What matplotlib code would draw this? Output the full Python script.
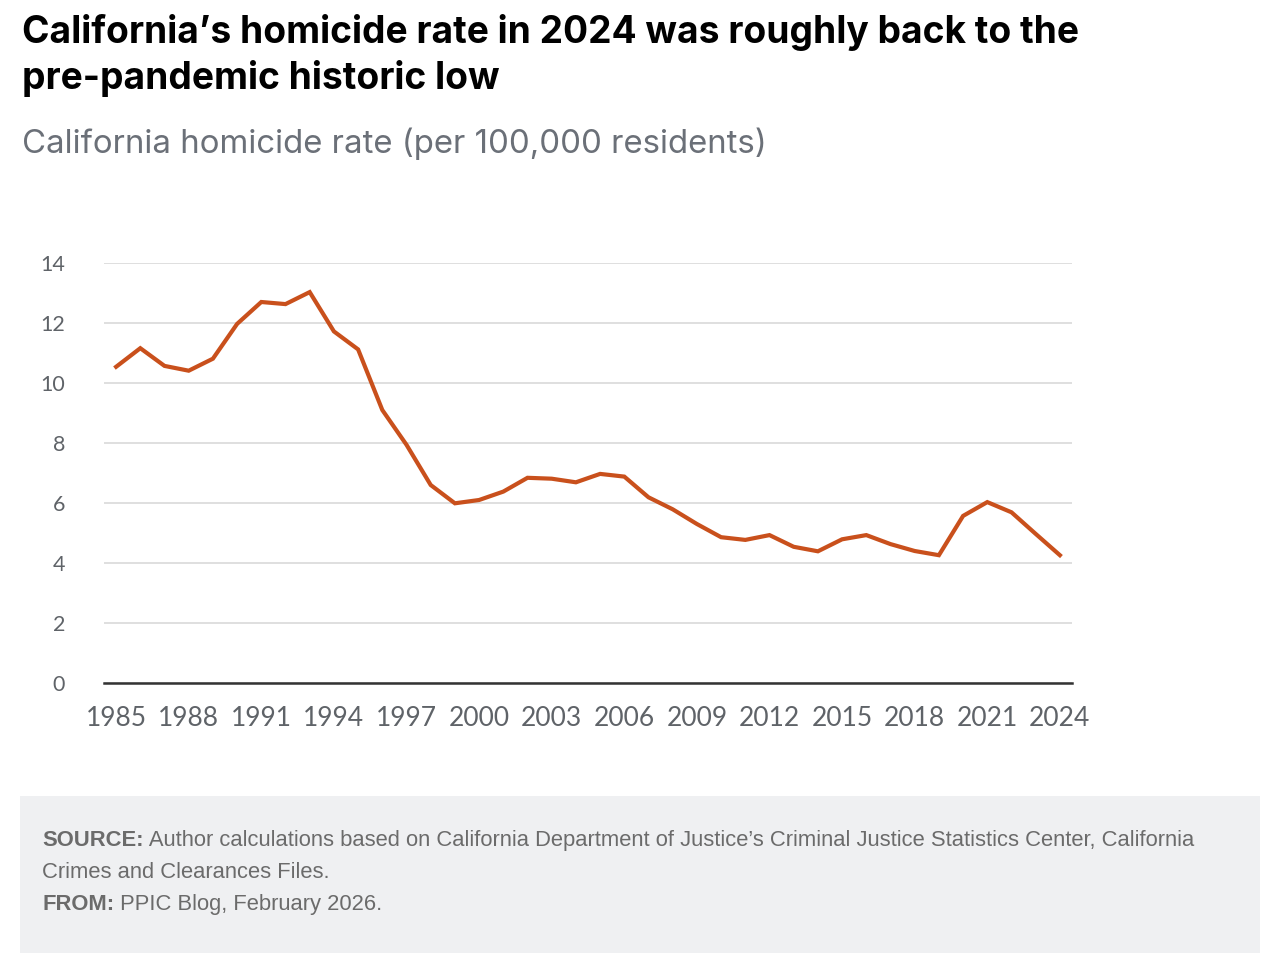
import matplotlib
matplotlib.use("Agg")
import matplotlib.pyplot as plt
from matplotlib.patches import Rectangle

years = list(range(1985, 2025))
homicide_rate = [10.55, 11.17, 10.58, 10.42, 10.82, 11.98, 12.71, 12.64, 13.04, 11.73,
                 11.13, 9.11, 7.95, 6.61, 6.00, 6.11, 6.39, 6.85, 6.82, 6.70,
                 6.98, 6.89, 6.20, 5.80, 5.31, 4.87, 4.78, 4.94, 4.55, 4.40,
                 4.80, 4.94, 4.64, 4.41, 4.27, 5.58, 6.04, 5.70, 4.98, 4.27]
x_ticks = list(range(1985, 2025, 3))
y_ticks = [0, 2, 4, 6, 8, 10, 12, 14]

title_lines = ["California\u2019s homicide rate in 2024 was roughly back to the",
               "pre-pandemic historic low"]
subtitle = "California homicide rate (per 100,000 residents)"
source_label = "SOURCE:"
source_line1 = " Author calculations based on California Department of Justice\u2019s Criminal Justice Statistics Center, California"
source_line2 = "Crimes and Clearances Files."
from_label = "FROM:"
from_text = " PPIC Blog, February 2026."

W, H = 1280, 960
fig = plt.figure(figsize=(12.8, 9.6), dpi=100)
fig.patch.set_facecolor("white")

def fx(px):
    return px / W

def fy(py):
    return 1 - py / H

ax = fig.add_axes([fx(104), fy(683.3), fx(1072) - fx(104), fy(263.3) - fy(683.3)])
ax.plot(years, homicide_rate, color="#c9501c", lw=3.0, solid_joinstyle="miter", zorder=3)
ax.set_xlim(1984.5, 2024.5)
ax.set_ylim(0, 14)
ax.set_xticks(x_ticks)
ax.set_yticks(y_ticks)
ax.grid(axis="y", color="#d9d9d9", lw=1.2)
ax.set_axisbelow(True)
for s in ["top", "right", "left"]:
    ax.spines[s].set_visible(False)
ax.spines["bottom"].set_color("#333333")
ax.spines["bottom"].set_linewidth(1.8)
ax.spines["bottom"].set_zorder(4)
ax.tick_params(axis="y", length=0, pad=28, labelsize=15.5, labelcolor="#5f6368")
ax.tick_params(axis="x", length=0, pad=16, labelsize=19, labelcolor="#5f6368")
for lab in ax.get_xticklabels() + ax.get_yticklabels():
    lab.set_fontfamily("Lato")

renderer = fig.canvas.get_renderer()

def fit_text(x, y, s, target_w, size, **kw):
    t = fig.text(fx(x), fy(y), s, fontsize=size, va="baseline", ha="left", **kw)
    w = t.get_window_extent(renderer).width
    t.set_fontsize(size * target_w / w)
    return t

t_title1 = fit_text(22, 43, title_lines[0], 1054, 25, fontweight="bold", family="Inter", color="black")
fig.text(fx(22), fy(89), title_lines[1], fontsize=t_title1.get_fontsize(), fontweight="bold",
         family="Inter", color="black", va="baseline", ha="left")
fit_text(22, 153, subtitle, 746, 22, family="Inter", color="#6b7078")

fig.patches.append(Rectangle((fx(20), fy(953)), fx(1260) - fx(20), fy(796) - fy(953),
                             transform=fig.transFigure, facecolor="#eff0f2", edgecolor="none", zorder=0))

fs = 15.8
fcol = "#6b6b6b"
t1 = fig.text(fx(42), fy(846), source_label, fontsize=fs, fontweight="bold", family="Liberation Sans",
              color=fcol, va="baseline", ha="left")
bb = t1.get_window_extent(renderer)
fig.text(bb.x1 / W, fy(846), source_line1, fontsize=fs, family="Liberation Sans",
         color=fcol, va="baseline", ha="left")
fig.text(fx(42), fy(878), source_line2, fontsize=fs, family="Liberation Sans",
         color=fcol, va="baseline", ha="left")
t2 = fig.text(fx(42), fy(910), from_label, fontsize=fs, fontweight="bold", family="Liberation Sans",
              color=fcol, va="baseline", ha="left")
bb2 = t2.get_window_extent(renderer)
fig.text(bb2.x1 / W, fy(910), from_text, fontsize=fs, family="Liberation Sans",
         color=fcol, va="baseline", ha="left")

fig.savefig("out.png", dpi=100, facecolor="white")
